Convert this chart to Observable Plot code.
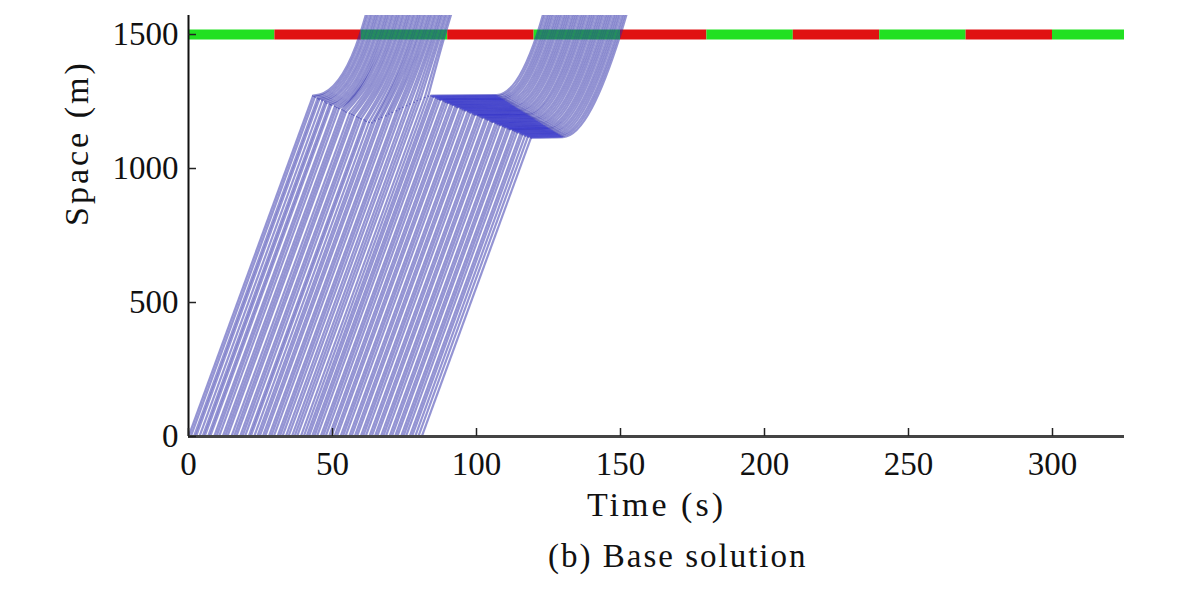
<!DOCTYPE html>
<html><head><meta charset="utf-8">
<script src="https://cdn.jsdelivr.net/npm/d3@7"></script>
<script src="https://cdn.jsdelivr.net/npm/@observablehq/plot@0.6"></script>
<style>
body{margin:0;background:#fff;}
#wrap{position:relative;width:1200px;height:600px;background:#fff;}
#caption{position:absolute;left:548px;top:538px;font-family:'Liberation Serif',serif;font-size:33px;letter-spacing:2px;color:#111;white-space:nowrap;}
g[aria-label="text"] text{letter-spacing:3px;}
</style></head>
<body><div id="wrap"><div id="chart"></div><div id="caption">(b) Base solution</div></div>
<script>
// ---- axes / ticks ----
const xTicks = [0, 50, 100, 150, 200, 250, 300];
const yTicks = [0, 500, 1000, 1500];
const timeDomain = [0, 325];
const spaceDomain = [0, 1571];

// ---- traffic light at 1500 m ----
const lightPosition = 1500;
const phaseStart = [0, 30, 60, 90, 120, 150, 180, 210, 240, 270, 300];
const phaseEnd   = [30, 60, 90, 120, 150, 180, 210, 240, 270, 300, 325];
const phaseState = ["go","stop","go","stop","go","stop","go","stop","go","stop","go"];

// ---- vehicle kinematics ----
const roadStart = 0;
const cruiseSpeed = 29.4;   // m/s, slope of straight trajectories
const exitRise = 100;       // m beyond the light
const exitSpeed = 36;       // m/s after the light

// Platoon 1 (crosses in green 60-90)
const g1Entry = [0.0,0.8,1.9,2.6,3.8,4.9,5.6,6.8,7.5,8.9,9.7,10.6,11.9,12.7,13.5,14.9,15.8,16.6,17.9,18.7,19.6,20.9,21.6,22.8,23.9,24.7,25.8,26.6,27.9,28.7,29.6,30.9,31.7,32.6,33.8,34.7,35.9,36.8,37.7,39.0,40.0];
const g1Queue = [1272,1268,1263,1259,1255,1251,1246,1242,1238,1234,1229,1225,1221,1217,1212,1208,1204,1200,1195,1191,1187,1183,1178,1174,1172,1180,1186,1192,1198,1205,1211,1217,1224,1230,1236,1242,1249,1255,1261,1266,1272];
const g1Release = [47.0,47.6,48.2,48.8,49.5,50.1,50.7,51.4,52.0,52.7,53.2,53.8,null,null,null,null,null,null,null,null,null,null,null,null,null,null,null,null,null,null,null,null,null,null,null,null,null,null,null,null,null];
const g1Cross = [59.5,60.2,61.0,61.7,62.5,63.2,63.9,64.7,65.4,66.2,66.9,67.6,68.4,69.1,69.9,70.6,71.3,72.1,72.8,73.6,74.3,75.0,75.8,76.5,77.3,78.0,78.7,79.5,80.2,81.0,81.7,82.4,83.2,83.9,84.7,85.4,86.1,86.9,87.6,88.4,89.1];
const g1Creep = 10;

// Platoon 2 (queues, crosses in green 120-150)
const g2Entry = [41.0,41.8,42.9,43.7,44.6,45.9,46.7,47.6,48.8,49.6,50.7,51.5,52.8,53.6,54.5,55.8,56.6,57.7,58.5,59.8,60.6,61.5,62.8,63.6,64.7,65.5,66.8,67.6,68.5,69.8,70.6,71.7,72.5,73.8,74.6,75.5,76.8,77.6,78.7,79.8,81.0];
const g2Queue = [1272,1268,1264,1260,1257,1253,1249,1245,1241,1237,1233,1229,1225,1221,1217,1213,1209,1205,1201,1198,1194,1190,1186,1182,1178,1174,1170,1166,1162,1158,1154,1150,1147,1143,1139,1135,1131,1127,1123,1119,1115];
const g2Release = [107.0,107.6,108.2,108.7,109.3,109.9,110.5,111.0,111.6,112.2,112.8,113.3,113.9,114.5,115.1,115.6,116.2,116.8,117.4,117.9,118.5,119.1,119.7,120.2,120.8,121.4,122.0,122.5,123.1,123.7,124.3,124.8,125.4,126.0,126.6,127.1,127.7,128.3,128.9,129.4,130.0];
const g2Cross = [121.0,121.7,122.5,123.2,123.9,124.6,125.4,126.1,126.8,127.5,128.3,129.0,129.7,130.4,131.2,131.9,132.6,133.3,134.1,134.8,135.5,136.2,137.0,137.7,138.4,139.1,139.9,140.6,141.3,142.0,142.8,143.5,144.2,144.9,145.7,146.4,147.1,147.8,148.6,149.3,150.0];
const g2Creep = 2;

// ---- tables built from the arrays ----
const phases = phaseStart.map((s, i) => ({start: s, end: phaseEnd[i], state: phaseState[i], pos: lightPosition}));

function buildVehicles(group, entry, queue, release, cross, creep) {
  return entry.map((t0, i) => ({
    group, id: group + "-" + i, t0, s0: roadStart,
    a: t0 + queue[i] / cruiseSpeed, q: queue[i],
    r: release[i], c: cross[i], creep,
    qr: queue[i] + creep
  }));
}
const vehicles = [
  ...buildVehicles("g1", g1Entry, g1Queue, g1Release, g1Cross, g1Creep),
  ...buildVehicles("g2", g2Entry, g2Queue, g2Release, g2Cross, g2Creep)
];
const stopped = vehicles.filter(v => v.group === "g2");
const path = vehicles.flatMap(v => {
  const pts = [{id: v.id, t: v.a, s: v.q}];
  if (v.r != null) pts.push({id: v.id, t: v.r, s: v.qr});
  pts.push({id: v.id, t: v.c, s: lightPosition});
  pts.push({id: v.id, t: v.c + exitRise / exitSpeed, s: lightPosition + exitRise});
  return pts;
});

const lineColor = "#2a2aa8";
const lineOpacity = 0.5;
const lineWidth = 2.2;
const font = "'Liberation Serif', 'Times New Roman', serif";

const chart = Plot.plot({
  width: 1200,
  height: 530,
  marginLeft: 188,
  marginRight: 76,
  marginTop: 15,
  marginBottom: 94,
  style: {fontFamily: font, fontSize: "33px", color: "#111", background: "#fff", overflow: "visible"},
  x: {domain: timeDomain, label: null},
  y: {domain: spaceDomain, label: null},
  color: {domain: ["go", "stop"], range: ["#22e022", "#e01212"]},
  marks: [
    Plot.ruleY(phases, {y: "pos", x1: "start", x2: "end", stroke: "state", strokeWidth: 10}),
    Plot.link(vehicles, {x1: "t0", y1: "s0", x2: "a", y2: "q", stroke: lineColor, strokeOpacity: lineOpacity, strokeWidth: lineWidth, clip: true}),
    Plot.line(path, {x: "t", y: "s", z: "id", curve: "monotone-x", stroke: lineColor, strokeOpacity: lineOpacity, strokeWidth: lineWidth, clip: true}),
    Plot.link(stopped, {x1: "a", y1: "q", x2: "r", y2: "qr", stroke: "#1e1ee8", strokeOpacity: 0.3, strokeWidth: 1.4, clip: true}),
    Plot.ruleX([timeDomain[0]], {stroke: "#111", strokeWidth: 2}),
    Plot.ruleY([spaceDomain[0]], {stroke: "#444", strokeWidth: 3}),
    Plot.axisX(xTicks, {tickSize: -8, tickPadding: 23, tickFormat: d3.format("d"), fontSize: 33, stroke: "#222", strokeWidth: 1.5}),
    Plot.axisY(yTicks, {tickSize: -8, tickPadding: 18, tickFormat: d3.format("d"), fontSize: 33, stroke: "#222", strokeWidth: 1.5}),
    Plot.text(["Time (s)"], {frameAnchor: "bottom", dy: 69, lineAnchor: "middle", fontSize: 34, fill: "#111"}),
    Plot.text(["Space (m)"], {frameAnchor: "left", dx: -111, rotate: -90, lineAnchor: "middle", fontSize: 34, fill: "#111"})
  ]
});
document.getElementById("chart").appendChild(chart);
</script></body></html>
